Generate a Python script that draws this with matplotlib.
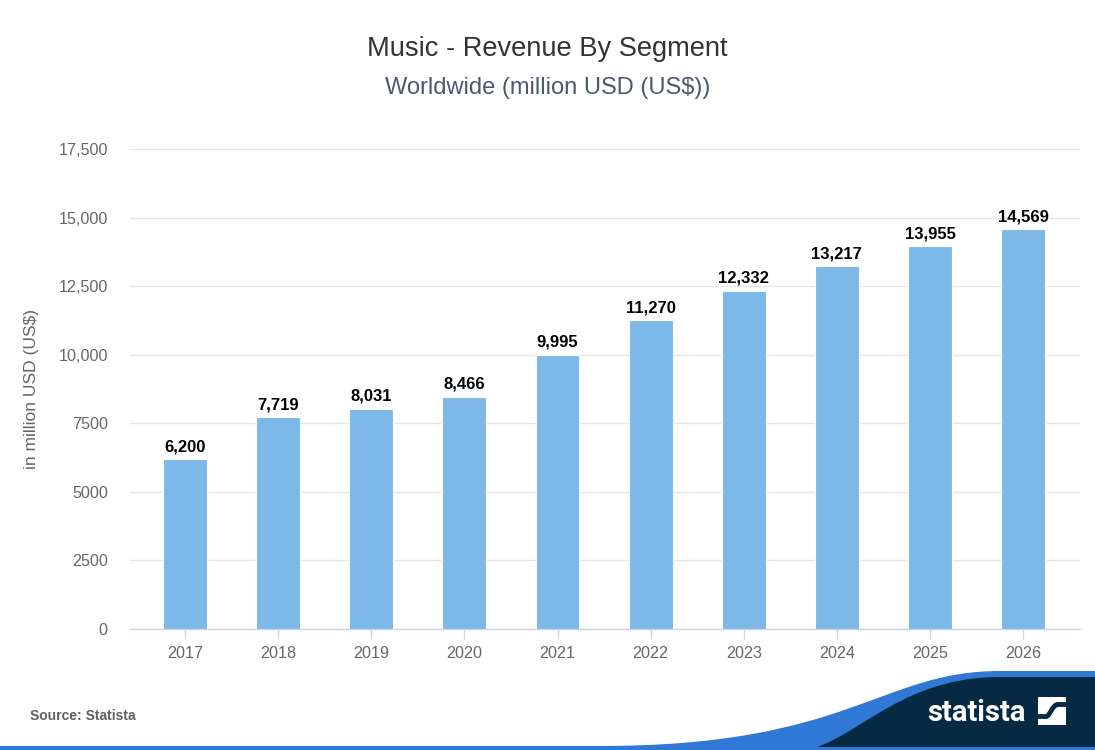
import matplotlib
matplotlib.use("Agg")
import matplotlib.pyplot as plt
from matplotlib.path import Path
from matplotlib.patches import PathPatch, Rectangle
import numpy as np

plt.rcParams['font.family'] = ['Liberation Sans', 'DejaVu Sans']

years = ['2017', '2018', '2019', '2020', '2021', '2022', '2023', '2024', '2025', '2026']
revenue = [6200, 7719, 8031, 8466, 9995, 11270, 12332, 13217, 13955, 14569]
yticks = [0, 2500, 5000, 7500, 10000, 12500, 15000, 17500]
ytick_labels = ['0', '2500', '5000', '7500', '10,000', '12,500', '15,000', '17,500']

title = 'Music - Revenue By Segment'
subtitle = 'Worldwide (million USD (US$))'
ylabel = 'in million USD (US$)'
source = 'Source: Statista'

W, H = 1095, 750
fig = plt.figure(figsize=(W / 100, H / 100), dpi=100)
fig.patch.set_facecolor('white')

# background overlay axes in pixel coordinates
bg = fig.add_axes([0, 0, 1, 1], zorder=0)
bg.set_xlim(0, W)
bg.set_ylim(H, 0)
bg.axis('off')

# main axes
ax = fig.add_axes([130 / W, (H - 629) / H, 950 / W, 480 / H], zorder=2)
ax.patch.set_alpha(0)
x = np.arange(len(years))
bars = ax.bar(x, revenue, width=0.47, color='#7cb9e8', edgecolor='white', linewidth=0.8, zorder=3)
ax.set_xlim(-0.59, len(years) - 1 + 0.61)
ax.set_ylim(0, 17500)
ax.set_yticks(yticks)
ax.set_yticklabels(ytick_labels)
ax.set_xticks(x)
ax.set_xticklabels(years)
ax.grid(axis='y', color='#e6e6e6', linewidth=1, zorder=0)
ax.set_axisbelow(True)
for s in ['top', 'right', 'left']:
    ax.spines[s].set_visible(False)
ax.spines['bottom'].set_color('#ccd6eb')
ax.spines['bottom'].set_linewidth(1)
ax.tick_params(axis='y', length=0, pad=16, labelsize=11.6, labelcolor='#666666')
ax.tick_params(axis='x', length=7, width=1, color='#ccd6eb', pad=5, labelsize=11.6, labelcolor='#666666')
ax.set_ylabel(ylabel, fontsize=12.5, color='#666666', labelpad=14)

for xi, v in zip(x, revenue):
    ax.annotate(f'{v:,}', (xi, v), xytext=(0, 3.5), textcoords='offset points',
                ha='center', va='bottom', fontsize=12, fontweight='bold', color='#000000', zorder=4)

# titles
bg.text(W / 2, 49, title, ha='center', va='center', fontsize=19.6, color='#333333')
bg.text(W / 2, 88, subtitle, ha='center', va='center', fontsize=17, color='#4a5870')
bg.text(30, 716, source, ha='left', va='center', fontsize=10, fontweight='bold', color='#606060')

# footer decoration
blue = '#2f78d6'
navy = '#062a43'
blue_verts = [(0, 746), (600, 746), (850, 746), (880, 671), (1000, 671), (W + 5, 671), (W + 5, H + 5), (0, H + 5), (0, 746)]
blue_codes = [Path.MOVETO, Path.LINETO, Path.CURVE4, Path.CURVE4, Path.CURVE4, Path.LINETO, Path.LINETO, Path.LINETO, Path.CLOSEPOLY]
bg.add_patch(PathPatch(Path(blue_verts, blue_codes), facecolor=blue, edgecolor='none', zorder=1))
navy_verts = [(790, 752), (850, 752), (890, 677), (1000, 677), (W + 5, 677), (W + 5, 752), (790, 752)]
navy_codes = [Path.MOVETO, Path.CURVE4, Path.CURVE4, Path.CURVE4, Path.LINETO, Path.LINETO, Path.CLOSEPOLY]
bg.add_patch(PathPatch(Path(navy_verts, navy_codes), facecolor=navy, edgecolor='none', zorder=2))
# bottom blue line
bg.add_patch(Rectangle((0, 747), W, 4, facecolor=blue, edgecolor='none', zorder=3))

# logo
bg.text(976, 713, 'statista', ha='center', va='center', fontsize=21, fontweight='bold',
        color='white', family='Roboto', zorder=4)
bg.add_patch(Rectangle((1038, 697), 28, 28, facecolor='white', edgecolor='none', zorder=4))
bg.add_patch(PathPatch(Path([(1038, 716.5), (1046, 716.5), (1050, 716.5), (1052, 704.5), (1058, 704.5), (1066, 704.5)],
                            [Path.MOVETO, Path.LINETO, Path.CURVE4, Path.CURVE4, Path.CURVE4, Path.LINETO]),
                       facecolor='none', edgecolor=navy, linewidth=3.5, zorder=5, capstyle='butt'))

fig.savefig('out.png', dpi=100, facecolor='white')
